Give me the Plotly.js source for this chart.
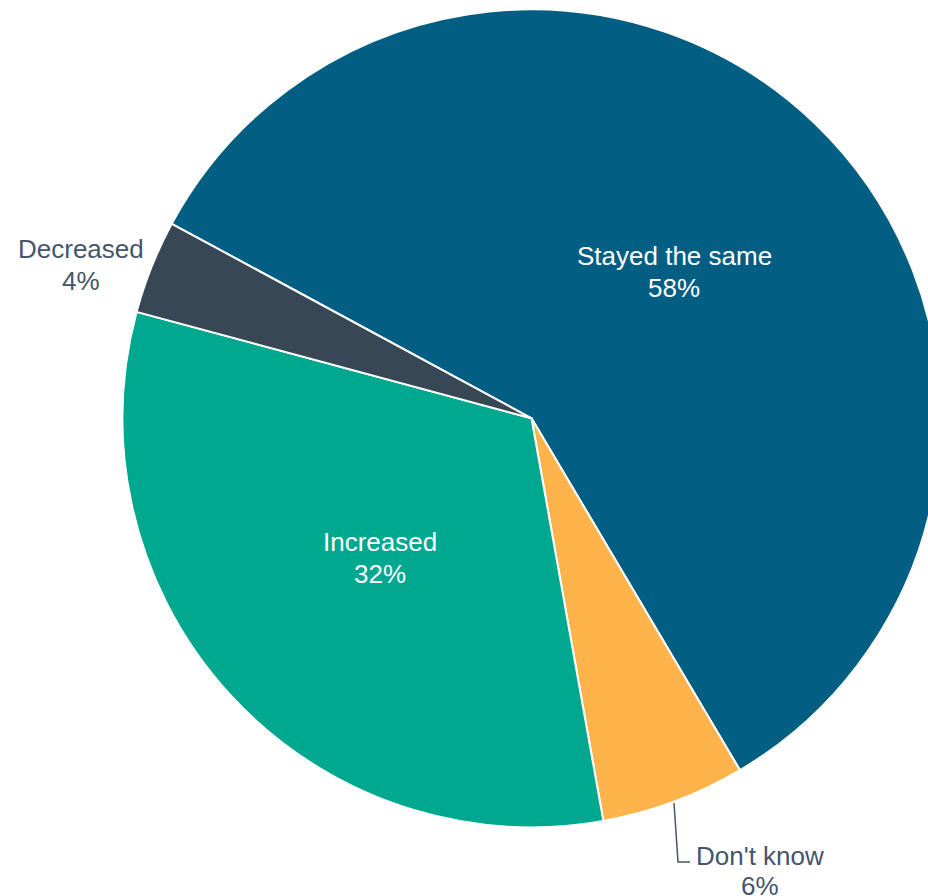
<!DOCTYPE html>
<html>
<head>
<meta charset="utf-8">
<script src="https://cdn.plot.ly/plotly-3.0.1.min.js"></script>
<style>
html, body { margin: 0; padding: 0; overflow: hidden; background: #ffffff; }
#chart { width: 1063px; height: 896px; }
</style>
</head>
<body>
<div id="chart"></div>
<script>
// Data
const categories = ["Stayed the same", "Don't know", "Increased", "Decreased"];
const values = [58.6, 5.7, 32.0, 3.7];
const pctLabels = ["58%", "6%", "32%", "4%"];
const sliceColors = ["#025E82", "#FFB34A", "#00A88F", "#374755"];

// Layout geometry (pixels)
const W = 1063, H = 896;
const px = x => x / W;
const py = y => (H - y) / H;

const labelPos = [
  { x: 674, y1: 255.5, y2: 288, color: "#ffffff" },
  { x: 760, y1: 856, y2: 885.5, color: "#46556A" },
  { x: 380, y1: 541.5, y2: 574, color: "#ffffff" },
  { x: 81,  y1: 249.5, y2: 281.5, color: "#46556A" }
];

const trace = {
  type: "pie",
  labels: categories,
  values: values,
  sort: false,
  direction: "clockwise",
  rotation: -61.6,
  marker: { colors: sliceColors, line: { color: "#ffffff", width: 2 } },
  textinfo: "none",
  hoverinfo: "label+percent",
  domain: { x: [0, 1], y: [py(418.3 + 409), py(418.3 - 409)] },
  showlegend: false
};

const fontFor = i => ({ family: "Liberation Sans, Arial, sans-serif", size: 26, color: labelPos[i].color });
const annotations = [];
categories.forEach((c, i) => {
  annotations.push({
    xref: "paper", yref: "paper",
    x: px(labelPos[i].x), y: py(labelPos[i].y1),
    xanchor: "center", yanchor: "middle",
    showarrow: false, text: c, font: fontFor(i)
  });
  annotations.push({
    xref: "paper", yref: "paper",
    x: px(labelPos[i].x), y: py(labelPos[i].y2),
    xanchor: "center", yanchor: "middle",
    showarrow: false, text: pctLabels[i], font: fontFor(i)
  });
});

const shapes = [{
  type: "path",
  xref: "paper", yref: "paper",
  path: "M " + px(674) + " " + py(803) + " L " + px(678) + " " + py(862) + " L " + px(690) + " " + py(862),
  line: { color: "#46556A", width: 1.5 }
}];

const layout = {
  width: W, height: H,
  margin: { l: 0, r: 0, t: 0, b: 0 },
  paper_bgcolor: "#ffffff",
  plot_bgcolor: "#ffffff",
  annotations: annotations,
  shapes: shapes,
  showlegend: false
};

Plotly.newPlot("chart", [trace], layout, { displayModeBar: false, staticPlot: true });
</script>
</body>
</html>
